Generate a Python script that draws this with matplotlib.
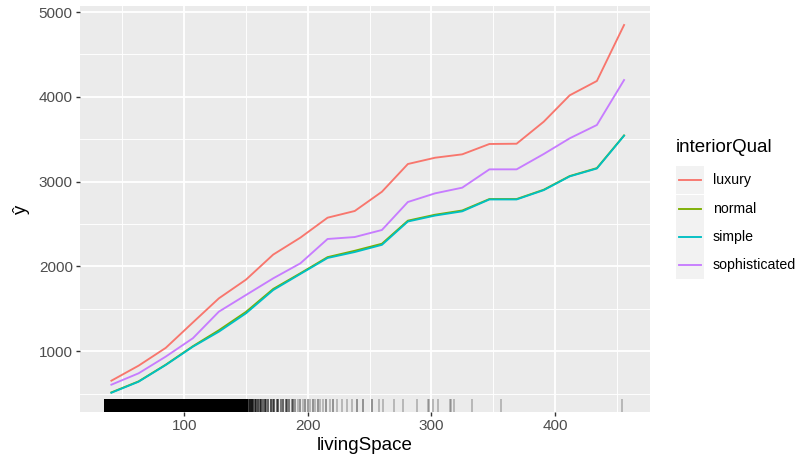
import numpy as np
import matplotlib
matplotlib.use("Agg")
import matplotlib.pyplot as plt
from matplotlib.lines import Line2D
from matplotlib.patches import Rectangle
import matplotlib.transforms as mtransforms

plt.rcParams["font.family"] = ["Liberation Sans", "DejaVu Sans"]

# ----------------------------- DATA ------------------------------------------
living_space = [41, 63, 85, 107, 128, 150, 172, 194, 216, 238,
                260, 281, 303, 325, 347, 369, 391, 412, 434, 456]

qual_levels = ["luxury", "normal", "simple", "sophisticated"]

yhat_luxury = [653, 830, 1040, 1340, 1624, 1845, 2140, 2340, 2575, 2654,
               2881, 3208, 3282, 3322, 3444, 3447, 3707, 4018, 4187, 4847]
yhat_normal = [515, 645, 842, 1060, 1248, 1465, 1735, 1920, 2110, 2185,
               2268, 2540, 2610, 2660, 2795, 2795, 2905, 3066, 3160, 3545]
yhat_simple = [511, 641, 838, 1054, 1231, 1448, 1722, 1912, 2100, 2170,
               2255, 2530, 2600, 2650, 2790, 2790, 2900, 3062, 3155, 3542]
yhat_sophisticated = [606, 740, 937, 1154, 1467, 1664, 1860, 2037, 2324, 2347,
                      2430, 2760, 2862, 2929, 3145, 3145, 3326, 3511, 3668, 4198]

# observed livingSpace values for the rug (dense part: every size seen many times)
rug_dense = [37, 38, 39, 40, 41, 42, 43, 44, 45, 46, 47, 48, 49, 50, 51, 52, 53, 54, 55, 56,
             57, 58, 59, 60, 61, 62, 63, 64, 65, 66, 67, 68, 69, 70, 71, 72, 73, 74, 75, 76,
             77, 78, 79, 80, 81, 82, 83, 84, 85, 86, 87, 88, 89, 90, 91, 92, 93, 94, 95, 96,
             97, 98, 99, 100, 101, 102, 103, 104, 105, 106, 107, 108, 109, 110, 111, 112, 113,
             114, 115, 116, 117, 118, 119, 120, 121, 122, 123, 124, 125, 126, 127, 128, 129,
             130, 131, 132, 133, 134, 135, 136, 137, 138, 139, 140, 141, 142, 143, 144, 145,
             146, 147, 148, 149]
rug_dense_count = 30
rug_tail = [150, 151, 152, 153, 154, 155, 156, 157, 158, 160, 161, 162, 164, 165, 166,
            168, 170, 172, 173, 175, 176, 178, 180, 182, 183, 185, 187, 188, 190, 192,
            194, 196, 198, 200, 202, 204, 206, 208, 210, 212, 215, 218, 220, 224, 228,
            232, 236, 240, 245, 252, 258, 261, 270, 277, 288, 297, 298, 301, 305, 315,
            316, 318, 333, 356, 454]
rug_tail_count = [9, 8, 9, 5, 8, 6, 9, 5, 6, 7, 4, 6, 4, 6, 3,
                  4, 6, 3, 4, 3, 4, 3, 4, 3, 3, 3, 2, 3, 2, 1,
                  2, 1, 2, 2, 1, 2, 1, 2, 1, 1, 2, 1, 2, 1, 1,
                  1, 1, 2, 2, 2, 1, 1, 1, 1, 1, 1, 1, 1, 1, 1,
                  1, 1, 1, 1, 1]

x_ticks = [100, 200, 300, 400]
y_ticks = [1000, 2000, 3000, 4000, 5000]

# ----------------------------- STYLE -----------------------------------------
COLORS = {"luxury": "#F8766D", "normal": "#7CAE00",
          "simple": "#00BFC4", "sophisticated": "#C77CFF"}
PANEL = "#EBEBEB"
W, H = 797, 454

fig = plt.figure(figsize=(W / 100, H / 100), dpi=100)
ax = fig.add_axes([80 / W, 1 - 412 / H, 570 / W, 406 / H])
ax.set_facecolor(PANEL)
for s in ax.spines.values():
    s.set_visible(False)

ax.set_xlim(15.6, 477)
ax.set_ylim(284, 5071)

ax.set_xticks(x_ticks)
ax.set_yticks(y_ticks)
ax.set_xticks([50, 150, 250, 350, 450], minor=True)
ax.set_yticks([500, 1500, 2500, 3500, 4500], minor=True)
ax.grid(which="major", color="white", lw=1.3)
ax.grid(which="minor", color="white", lw=0.65)
ax.set_axisbelow(True)
ax.tick_params(which="major", length=3.2, width=1.0, color="#333333",
               labelcolor="#4D4D4D", labelsize=11, pad=2)
ax.tick_params(which="minor", length=0)

series = {"luxury": yhat_luxury, "normal": yhat_normal,
          "simple": yhat_simple, "sophisticated": yhat_sophisticated}
for q in qual_levels:
    ax.plot(living_space, series[q], color=COLORS[q], lw=1.35, zorder=3)

# rug along the bottom of the panel
trans = mtransforms.blended_transform_factory(ax.transData, ax.transAxes)
a1 = 0.28
ax.vlines(rug_dense, 0, 0.032, transform=trans, color="black",
          alpha=1 - (1 - a1) ** rug_dense_count, lw=2.2, zorder=2,
          antialiased=False)
for v, c in zip(rug_tail, rug_tail_count):
    ax.vlines(v, 0, 0.032, transform=trans, color="black",
              alpha=1 - (1 - a1) ** c, lw=1.1, zorder=2)

ax.set_xlabel("livingSpace", fontsize=13.5, color="black", labelpad=3)
ax.set_ylabel("ŷ", fontsize=13.5, color="black", labelpad=6)

# legend, ggplot style
fig.text(676 / W, 1 - 148 / H, "interiorQual", fontsize=13.5,
         ha="left", va="center")
rows = [180, 209, 237, 265]
for q, yr in zip(qual_levels, rows):
    fig.add_artist(Rectangle((676 / W, 1 - (yr + 14) / H), 28 / W, 28 / H,
                             transform=fig.transFigure, facecolor="#F2F2F2",
                             edgecolor="none"))
    fig.add_artist(Line2D([679 / W, 701 / W], [1 - yr / H, 1 - yr / H],
                          transform=fig.transFigure, color=COLORS[q], lw=1.35))
    fig.text(713 / W, 1 - yr / H, q, fontsize=10.2, ha="left", va="center")

fig.savefig("out.png", dpi=100, facecolor="white")
